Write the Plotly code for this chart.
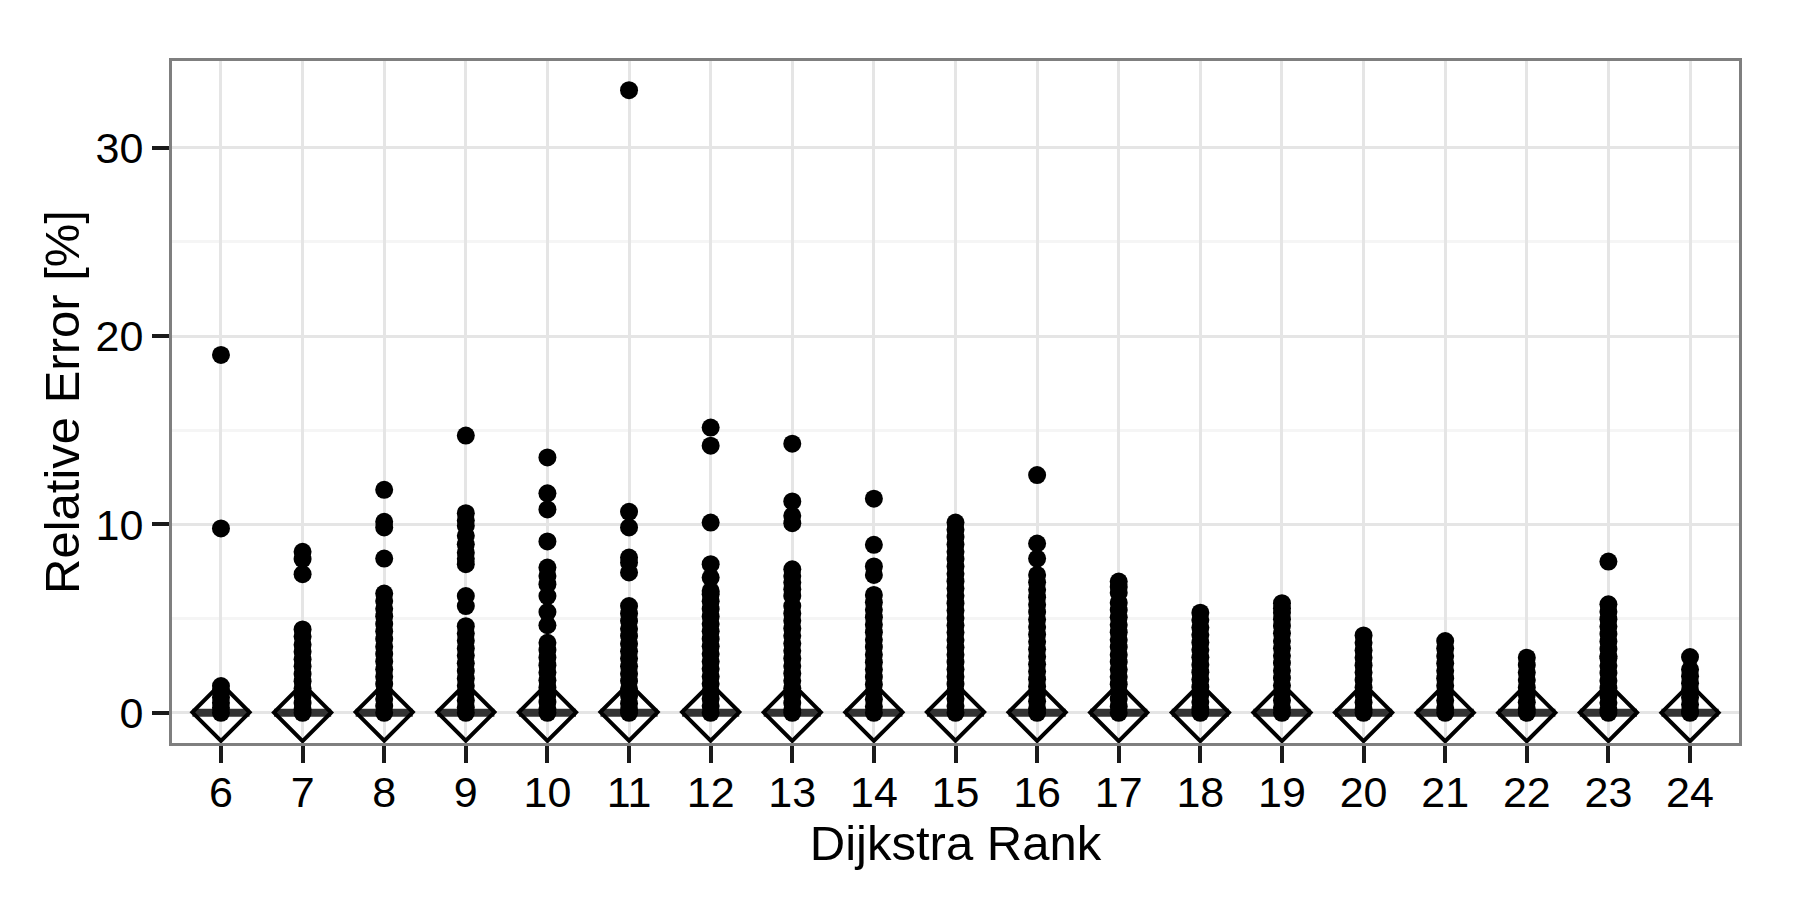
import plotly.graph_objects as go

ranks = ["6", "7", "8", "9", "10", "11", "12", "13", "14", "15",
         "16", "17", "18", "19", "20", "21", "22", "23", "24"]

# Relative error values per Dijkstra rank (outliers + dense columns)
err_6 = [19.0, 9.79, 1.42, 1.15, 0.82, 0.53, 0.27, 0.0]
err_7 = [8.55, 8.16, 7.36, 4.43, 4.05, 3.62, 3.25, 2.84, 2.47, 2.06, 1.68, 1.29, 0.91, 0.52, 0.18, 0.0]
err_8 = [11.84, 10.14, 9.84, 8.19, 6.33, 5.94, 5.52, 5.13, 4.71, 4.33, 3.92, 3.51, 3.12,
         2.73, 2.31, 1.92, 1.53, 1.12, 0.74, 0.36, 0.0]
err_9 = [14.72, 10.6, 10.21, 9.93, 9.4, 8.95, 8.5, 8.18, 7.89, 6.2, 5.67, 4.6, 4.21, 3.83,
         3.42, 3.04, 2.63, 2.22, 1.83, 1.44, 1.05, 0.66, 0.29, 0.0]
err_10 = [13.56, 11.65, 10.8, 9.1, 7.71, 7.27, 6.83, 6.2, 5.35, 4.65, 3.72, 3.33, 2.94,
          2.53, 2.14, 1.73, 1.35, 0.96, 0.57, 0.21, 0.0]
err_11 = [33.05, 10.67, 9.84, 8.24, 7.98, 7.45, 5.67, 5.28, 4.87, 4.46, 4.08, 3.67, 3.27,
          2.88, 2.47, 2.08, 1.69, 1.28, 0.89, 0.5, 0.14, 0.0]
err_12 = [15.14, 14.18, 10.1, 7.89, 7.18, 6.47, 6.3, 5.92, 5.51, 5.12, 4.72, 4.33, 3.92,
          3.53, 3.13, 2.72, 2.34, 1.93, 1.54, 1.13, 0.75, 0.37, 0.0]
err_13 = [14.29, 11.22, 10.46, 10.07, 7.62, 7.27, 6.92, 6.56, 6.2, 5.67, 5.28, 4.89, 4.48,
          4.09, 3.68, 3.29, 2.89, 2.49, 2.09, 1.7, 1.3, 0.91, 0.52, 0.16, 0.0]
err_14 = [11.37, 8.92, 7.77, 7.32, 6.26, 5.87, 5.47, 5.08, 4.68, 4.28, 3.88, 3.49, 3.09,
          2.69, 2.3, 1.9, 1.51, 1.11, 0.72, 0.33, 0.0]
err_15 = [10.1, 9.72, 9.33, 8.94, 8.55, 8.16, 7.77, 7.38, 6.99, 6.6, 6.21, 5.82, 5.43,
          5.04, 4.65, 4.26, 3.87, 3.48, 3.09, 2.7, 2.31, 1.92, 1.53, 1.14, 0.75, 0.37, 0.0]
err_16 = [12.62, 8.99, 8.19, 7.32, 6.93, 6.53, 6.14, 5.74, 5.35, 4.95, 4.56, 4.16, 3.77,
          3.37, 2.98, 2.58, 2.19, 1.79, 1.4, 1.0, 0.61, 0.23, 0.0]
err_17 = [6.97, 6.68, 6.38, 5.85, 5.46, 5.07, 4.67, 4.28, 3.88, 3.49, 3.09, 2.7, 2.3,
          1.91, 1.52, 1.12, 0.73, 0.34, 0.0]
err_18 = [5.32, 4.93, 4.53, 4.14, 3.74, 3.35, 2.95, 2.56, 2.16, 1.77, 1.37, 0.98, 0.58, 0.2, 0.0]
err_19 = [5.82, 5.55, 5.32, 4.97, 4.61, 4.22, 3.82, 3.43, 3.03, 2.64, 2.24, 1.85, 1.45,
          1.06, 0.66, 0.27, 0.0]
err_20 = [4.11, 3.72, 3.32, 2.93, 2.53, 2.14, 1.74, 1.35, 0.95, 0.56, 0.18, 0.0]
err_21 = [3.81, 3.42, 3.02, 2.63, 2.23, 1.84, 1.44, 1.05, 0.65, 0.26, 0.0]
err_22 = [2.93, 2.54, 2.14, 1.75, 1.35, 0.96, 0.56, 0.19, 0.0]
err_23 = [8.03, 5.76, 5.37, 4.97, 4.58, 4.18, 3.79, 3.39, 3.0, 2.9, 2.5, 2.11, 1.71,
          1.32, 0.92, 0.53, 0.15, 0.0]
err_24 = [2.96, 2.3, 1.94, 1.57, 1.19, 0.82, 0.44, 0.08, 0.0]

errors = [err_6, err_7, err_8, err_9, err_10, err_11, err_12, err_13, err_14, err_15,
          err_16, err_17, err_18, err_19, err_20, err_21, err_22, err_23, err_24]

# Box statistics (collapsed at zero) and means
q1 = [0.0] * 19
median = [0.0] * 19
q3 = [0.0] * 19
lowerfence = [0.0] * 19
upperfence = [0.0] * 19
means = [0.03, 0.02, 0.04, 0.04, 0.03, 0.04, 0.04, 0.03, 0.03, 0.04,
         0.03, 0.02, 0.02, 0.02, 0.02, 0.01, 0.01, 0.02, 0.01]

y_ticks = [0, 10, 20, 30]

FONT = "Liberation Sans, Arial, Helvetica, sans-serif"

fig = go.Figure()

px_x = []
px_y = []
for r, vals in zip(ranks, errors):
    for v in vals:
        px_x.append(r)
        px_y.append(v)

fig.add_trace(go.Scatter(
    x=px_x, y=px_y, mode="markers",
    marker=dict(color="black", size=18, line=dict(width=0)),
    showlegend=False, hoverinfo="y"))

fig.add_trace(go.Box(
    x=ranks, q1=q1, median=median, q3=q3,
    lowerfence=lowerfence, upperfence=upperfence,
    boxpoints=False, width=0.7, whiskerwidth=0,
    line=dict(color="#333333", width=8), fillcolor="white",
    showlegend=False))

fig.add_trace(go.Scatter(
    x=ranks, y=means, mode="markers",
    marker=dict(symbol="diamond-open", size=44, color="black",
                line=dict(color="black", width=4)),
    showlegend=False))

fig.update_layout(
    width=1800, height=900,
    margin=dict(l=164, r=69, t=53, b=165),
    paper_bgcolor="white", plot_bgcolor="white",
    font=dict(family=FONT, color="black"),
    xaxis=dict(
        type="category", categoryorder="array", categoryarray=ranks,
        range=[-0.6, 18.6],
        showgrid=True, gridcolor="#E5E5E5", gridwidth=2.5,
        ticks="outside", ticklen=17, tickwidth=4, tickcolor="#1a1a1a",
        tickfont=dict(size=43, family=FONT, color="black"),
        ticklabelstandoff=-8,
        showline=True, linecolor="#7F7F7F", linewidth=3, mirror=True,
        zeroline=False,
        title=dict(text="Dijkstra Rank", font=dict(size=49, family=FONT, color="black"),
                   standoff=0),
    ),
    yaxis=dict(
        range=[-1.6, 34.6],
        tickvals=y_ticks, ticktext=[str(t) for t in y_ticks],
        showgrid=True, gridcolor="#E5E5E5", gridwidth=2.5,
        minor=dict(tickvals=[5, 15, 25], showgrid=True, gridcolor="#F5F5F5", gridwidth=2.5,
                   ticks=""),
        ticks="outside", ticklen=17, tickwidth=4, tickcolor="#1a1a1a",
        tickfont=dict(size=43, family=FONT, color="black"),
        showline=True, linecolor="#7F7F7F", linewidth=3, mirror=True,
        zeroline=False,
        title=dict(text="Relative Error [%]", font=dict(size=49, family=FONT, color="black"),
                   standoff=1),
    ),
)

fig.write_html("out.html")
